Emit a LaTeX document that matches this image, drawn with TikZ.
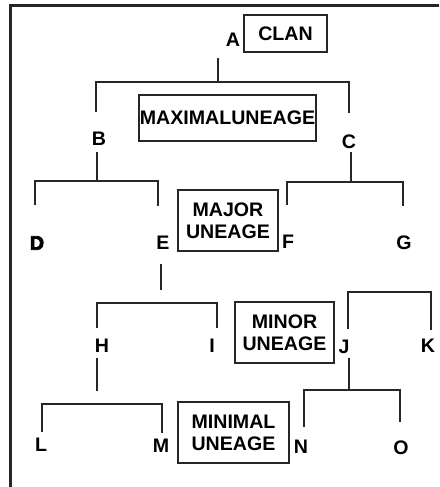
\documentclass[tikz,border=0pt]{standalone}
\usepackage{fontspec}
\setmainfont{Liberation Sans}
\newfontfamily\heavyfont{Liberation Sans Bold}[FakeBold=4]
\begin{document}
\begin{tikzpicture}[x=1pt,y=-1pt,
  ink/.style={draw=black!85,line width=2.9pt},
  letter/.style={inner sep=0pt,font=\fontsize{19.6}{22}\selectfont\bfseries},
  rank/.style={draw=black!85,line width=2.7pt,inner sep=0pt,align=center,
    font=\fontsize{19.6}{22}\selectfont\bfseries}]
\useasboundingbox (0,0) rectangle (439,487);
\fill[white] (0,0) rectangle (439,487);

% outer frame (only top and left sides fall inside the page)
\coordinate (fb) at (10,487);
\coordinate (fc) at (10,6);
\coordinate (fr) at (439,6);
\draw[ink,line width=3pt] (fb) -- (fc) -- (fr);

% lineage names
\node[rank,minimum width=83pt,minimum height=37pt] (clan) at (285.5,33.5) {CLAN};
\node[rank,minimum width=177pt,minimum height=46pt] (maximal) at (227.5,118) {MAXIMALUNEAGE};
\node[rank,minimum width=100pt,minimum height=61pt] (major) at (228,220.5) {MAJOR\\UNEAGE};
\node[rank,minimum width=99pt,minimum height=61pt] (minor) at (284.5,332.5) {MINOR\\UNEAGE};
\node[rank,minimum width=111pt,minimum height=61pt] (minimal) at (233.5,432.5) {MINIMAL\\UNEAGE};

% segment letters
\node[letter] (A) at (233,40) {A};
\node[letter] (B) at (99,139) {B};
\node[letter] (C) at (349,142) {C};
\node[letter,font=\fontsize{19.6}{22}\selectfont\heavyfont] (D) at (37,243) {D};
\node[letter] (E) at (163,243) {E};
\node[letter] (F) at (288,242) {F};
\node[letter] (G) at (404,243) {G};
\node[letter] (H) at (102,346) {H};
\node[letter] (I) at (212,346) {I};
\node[letter] (J) at (344,347) {J};
\node[letter] (K) at (428,346) {K};
\node[letter] (L) at (41,445) {L};
\node[letter] (M) at (161,446) {M};
\node[letter] (N) at (301,447) {N};
\node[letter] (O) at (401,448) {O};

% branch points
\coordinate (a1) at (218,58);   \coordinate (a2) at (218,82);
\coordinate (bl) at (96,112);   \coordinate (cr) at (349,113);
\coordinate (b1) at (97,152);   \coordinate (b2) at (97,181);
\coordinate (dl) at (35,205);   \coordinate (er) at (158,206);
\coordinate (c1) at (351,152);  \coordinate (c2) at (351,182);
\coordinate (fl) at (287,205);  \coordinate (gr) at (403,206);
\coordinate (e1) at (161,264);  \coordinate (e2) at (161,290);
\coordinate (hm) at (157,303);
\coordinate (hl) at (97,328);   \coordinate (ir) at (217,328);
\coordinate (jkm) at (390,292);
\coordinate (jl) at (348,329);  \coordinate (kr) at (431,330);
\coordinate (h1) at (97,358);   \coordinate (h2) at (97,391);
\coordinate (lm) at (102,404);
\coordinate (ll) at (42,432);   \coordinate (mr) at (162,433);
\coordinate (j1) at (349,358);  \coordinate (j2) at (349,390);
\coordinate (nl) at (304,427);  \coordinate (or) at (400,422);

% stems and brackets
\draw[ink] (a1) -- (a2);
\draw[ink] (bl) |- (a2) -| (cr);
\draw[ink] (b1) -- (b2);
\draw[ink] (dl) |- (b2) -| (er);
\draw[ink] (c1) -- (c2);
\draw[ink] (fl) |- (c2) -| (gr);
\draw[ink] (e1) -- (e2);
\draw[ink] (hl) |- (hm) -| (ir);
\draw[ink] (jl) |- (jkm) -| (kr);
\draw[ink] (h1) -- (h2);
\draw[ink] (ll) |- (lm) -| (mr);
\draw[ink] (j1) -- (j2);
\draw[ink] (nl) |- (j2) -| (or);
\end{tikzpicture}
\end{document}
